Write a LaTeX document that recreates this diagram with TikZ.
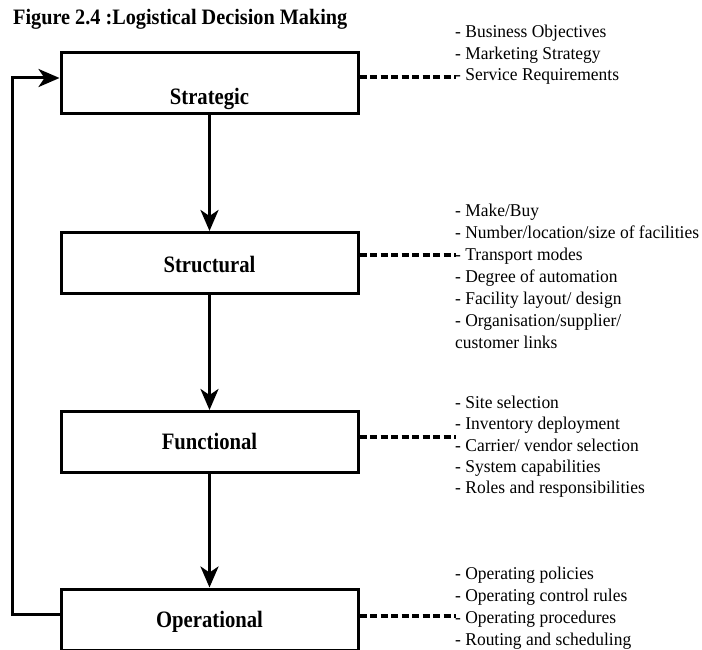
\documentclass[tikz,border=0pt]{standalone}
\usepackage{fontspec}
\setmainfont{Liberation Serif}
\newfontfamily\condfont[FakeStretch=0.88]{Liberation Serif}
\newfontfamily\titlefont[FakeStretch=0.92]{Liberation Serif}
\newfontfamily\itemfont[FakeStretch=0.97]{Liberation Serif}
\usetikzlibrary{arrows.meta}
\begin{document}
\begin{tikzpicture}[x=1pt,y=-1pt,
  box/.style={draw, line width=3pt, inner sep=0pt, minimum width=297pt, minimum height=61pt},
  lbl/.style={anchor=base, inner sep=0pt, font=\condfont\fontsize{23.5}{26}\selectfont\bfseries},
  item/.style={anchor=base west, inner sep=0pt, font=\itemfont\fontsize{18}{20}\selectfont},
  arr/.style={line width=3pt, -{Stealth[length=21pt,width=18pt,inset=6pt]}},
  dline/.style={line width=4pt, dash pattern=on 7pt off 3.5pt}
]
\useasboundingbox (0,0) rectangle (702,650);

% title
\node[anchor=base west, inner sep=0pt, font=\titlefont\fontsize{22}{24}\selectfont\bfseries] (title) at (13,25) {Figure 2.4 :Logistical Decision Making};

% boxes
\node[box] (strat) at (209.5,83.5) {};
\node[box] (struc) at (209.5,263) {};
\node[box] (func) at (209.5,442) {};
\node[box] (oper) at (209.5,619.5) {};

\node[lbl] (stratl) at (209.5,105) {Strategic};
\node[lbl] (strucl) at (209.5,272) {Structural};
\node[lbl] (funcl) at (209.5,449) {Functional};
\node[lbl] (operl) at (209.5,627) {Operational};

% vertical arrows
\draw[arr] (strat.south) -- (struc.north);
\draw[arr] (struc.south) -- (func.north);
\draw[arr] (func.south) -- (oper.north);

% feedback loop
\coordinate (fbb) at (12,614);
\coordinate (fbt) at (12,78);
\draw[arr] ([yshift=5.5pt]oper.west) -- (fbb) -- (fbt) -- ([yshift=5.5pt]strat.west);

% dashed connectors
\coordinate (d1) at (456,77);
\coordinate (d2) at (456,255);
\coordinate (d3) at (456,437);
\coordinate (d4) at (456,616);
\draw[dline] (strat.east |- d1) -- (d1);
\draw[dline] (struc.east |- d2) -- (d2);
\draw[dline] (func.east |- d3) -- (d3);
\draw[dline] (oper.east |- d4) -- (d4);

% lists
\node[item] (a1) at (455,38) {- Business Objectives};
\node[item] (a2) at (455,59.5) {- Marketing Strategy};
\node[item] (a3) at (455,81) {- Service Requirements};

\node[item] (b1) at (455,216) {- Make/Buy};
\node[item] (b2) at (455,238) {- Number/location/size of facilities};
\node[item] (b3) at (455,260) {- Transport modes};
\node[item] (b4) at (455,282) {- Degree of automation};
\node[item] (b5) at (455,304) {- Facility layout/ design};
\node[item] (b6) at (455,326) {- Organisation/supplier/};
\node[item] (b7) at (455,348) {customer links};

\node[item] (c1) at (455,408) {- Site selection};
\node[item] (c2) at (455,429.5) {- Inventory deployment};
\node[item] (c3) at (455,451) {- Carrier/ vendor selection};
\node[item] (c4) at (455,472) {- System capabilities};
\node[item] (c5) at (455,493) {- Roles and responsibilities};

\node[item] (e1) at (455,579) {- Operating policies};
\node[item] (e2) at (455,601) {- Operating control rules};
\node[item] (e3) at (455,623) {- Operating procedures};
\node[item] (e4) at (455,645) {- Routing and scheduling};
\end{tikzpicture}
\end{document}
